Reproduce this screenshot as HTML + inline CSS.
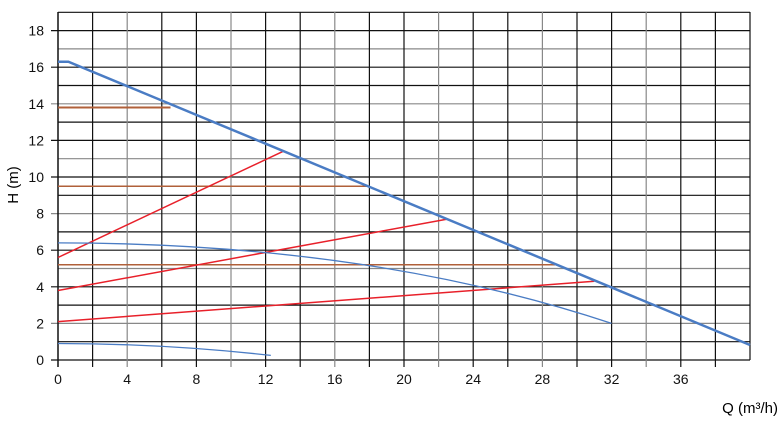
<!DOCTYPE html><html><head><style>body{margin:0;background:#fff}</style></head><body>
<svg width="781" height="423" xmlns="http://www.w3.org/2000/svg" font-family="Liberation Sans, sans-serif">
<g stroke-width="1.2">
<g stroke="#111">
<line x1="51" x2="750" y1="360" y2="360"/><line x1="58" x2="750" y1="341.7" y2="341.7"/>
<line x1="58" x2="750" y1="305.1" y2="305.1"/><line x1="51" x2="750" y1="286.8" y2="286.8"/>
<line x1="51" x2="750" y1="250.2" y2="250.2"/><line x1="58" x2="750" y1="231.9" y2="231.9"/>
<line x1="58" x2="750" y1="195.3" y2="195.3"/><line x1="51" x2="750" y1="177" y2="177"/>
<line x1="51" x2="750" y1="140.4" y2="140.4"/><line x1="58" x2="750" y1="122.1" y2="122.1"/>
<line x1="58" x2="750" y1="85.5" y2="85.5"/><line x1="51" x2="750" y1="67.2" y2="67.2"/>
<line x1="51" x2="750" y1="30.6" y2="30.6"/><line x1="58" x2="750" y1="12.3" y2="12.3"/>
</g>
<g stroke="#888">
<line x1="51" x2="750" y1="323.4" y2="323.4"/><line x1="58" x2="750" y1="268.5" y2="268.5"/>
<line x1="51" x2="750" y1="213.6" y2="213.6"/><line x1="58" x2="750" y1="158.7" y2="158.7"/>
<line x1="51" x2="750" y1="103.8" y2="103.8"/><line x1="58" x2="750" y1="48.9" y2="48.9"/>
</g>
<g stroke="#111">
<line x1="58" x2="58" y1="12" y2="367" stroke-width="1.5"/>
<line x1="92.6" x2="92.6" y1="12" y2="367"/><line x1="161.8" x2="161.8" y1="12" y2="367"/>
<line x1="196.4" x2="196.4" y1="12" y2="367"/><line x1="265.6" x2="265.6" y1="12" y2="367"/>
<line x1="300.2" x2="300.2" y1="12" y2="367"/><line x1="369.4" x2="369.4" y1="12" y2="367"/>
<line x1="404" x2="404" y1="12" y2="367"/><line x1="473.2" x2="473.2" y1="12" y2="367"/>
<line x1="507.8" x2="507.8" y1="12" y2="367"/><line x1="577" x2="577" y1="12" y2="367"/>
<line x1="611.6" x2="611.6" y1="12" y2="367"/><line x1="680.8" x2="680.8" y1="12" y2="367"/>
<line x1="715.4" x2="715.4" y1="12" y2="367"/><line x1="750" x2="750" y1="12" y2="360"/>
</g>
<g stroke="#888">
<line x1="127.2" x2="127.2" y1="12" y2="367"/><line x1="231" x2="231" y1="12" y2="367"/>
<line x1="334.8" x2="334.8" y1="12" y2="367"/><line x1="438.6" x2="438.6" y1="12" y2="367"/>
<line x1="542.4" x2="542.4" y1="12" y2="367"/><line x1="646.2" x2="646.2" y1="12" y2="367"/>
</g>
</g>
<g font-size="14" text-anchor="end" fill="#111">
<text x="44" y="365">0</text><text x="44" y="328.4">2</text><text x="44" y="291.8">4</text>
<text x="44" y="255.2">6</text><text x="44" y="218.6">8</text><text x="44" y="182">10</text>
<text x="44" y="145.4">12</text><text x="44" y="108.8">14</text><text x="44" y="72.2">16</text>
<text x="44" y="35.6">18</text>
</g>
<g font-size="14" text-anchor="middle" fill="#111">
<text x="58" y="384">0</text><text x="127.2" y="384">4</text><text x="196.4" y="384">8</text>
<text x="265.6" y="384">12</text><text x="334.8" y="384">16</text><text x="404" y="384">20</text>
<text x="473.2" y="384">24</text><text x="542.4" y="384">28</text><text x="611.6" y="384">32</text>
<text x="680.8" y="384">36</text>
</g>
<g stroke="#b0603a" fill="none">
<line x1="58" x2="170.5" y1="107.5" y2="107.5" stroke-width="2"/>
<line x1="58" x2="369.4" y1="186.2" y2="186.2" stroke-width="1.5"/>
<line x1="58" x2="555" y1="264.8" y2="264.8" stroke-width="1.5"/>
</g>
<g stroke="#e8202a" stroke-width="1.5">
<line x1="58" y1="257.5" x2="282.9" y2="151.4"/>
<line x1="58" y1="290.5" x2="447.3" y2="219.1"/>
<line x1="58" y1="321.6" x2="594.3" y2="281.3"/>
</g>
<g stroke="#4a7cc4" fill="none">
<path d="M58 242.9 Q369.4 242.9 611.6 323.4" stroke-width="1.3"/>
<path d="M58 343.5 Q164.4 343.5 270.8 355.4" stroke-width="1.3"/>
<polyline points="58,61.7 68.4,61.7 750,345" stroke-width="2.5"/>
</g>
<text transform="translate(18,185) rotate(-90)" font-size="15" text-anchor="middle">H (m)</text>
<text x="778" y="413" font-size="15" text-anchor="end">Q (m³/h)</text>
</svg></body></html>
